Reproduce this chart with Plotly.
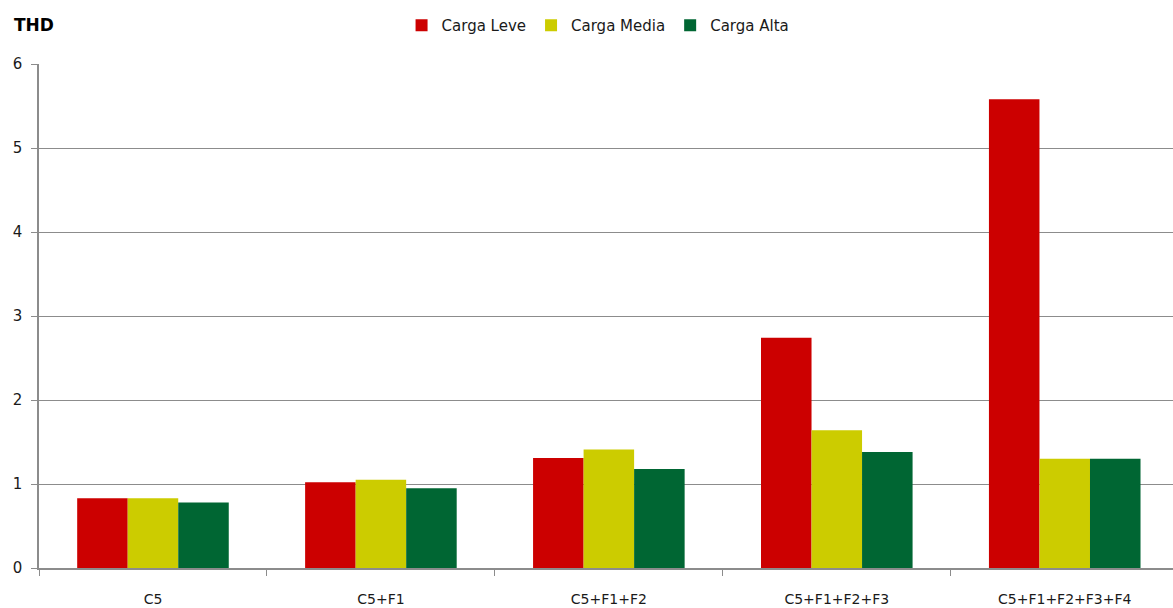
import plotly.graph_objects as go

# THD per configuration and load level
categories = ["C5", "C5+F1", "C5+F1+F2", "C5+F1+F2+F3", "C5+F1+F2+F3+F4"]
carga_leve = [0.83, 1.02, 1.31, 2.74, 5.58]
carga_media = [0.83, 1.05, 1.41, 1.64, 1.30]
carga_alta = [0.78, 0.95, 1.18, 1.38, 1.30]

series = [
    ("Carga Leve", carga_leve, "#CC0000"),
    ("Carga Media", carga_media, "#CCCC00"),
    ("Carga Alta", carga_alta, "#006633"),
]

fig = go.Figure()
for name, vals, color in series:
    fig.add_trace(go.Bar(
        x=categories, y=vals, name=name,
        marker=dict(color=color, line=dict(width=0)),
    ))

axis_grey = "#8c8c8c"
text_color = "#1a1a1a"
font_family = "DejaVu Sans, Verdana, sans-serif"

fig.update_layout(
    width=1173, height=608,
    margin=dict(l=39, r=0, t=64, b=40),
    paper_bgcolor="white", plot_bgcolor="white",
    barmode="group", bargap=0.335, bargroupgap=0,
    font=dict(family=font_family, size=14, color=text_color),
    showlegend=True,
    legend=dict(
        orientation="h", x=0.493, xanchor="center", y=0.985, yanchor="top",
        yref="container", font=dict(size=15, color=text_color),
        itemwidth=30, traceorder="normal",
    ),
    xaxis=dict(
        type="category", range=[-0.5, 4.475],
        showline=True, linecolor=axis_grey, linewidth=1.5,
        ticks="outside", tickson="boundaries", ticklen=6, tickcolor=axis_grey,
        ticklabelstandoff=17,
        showgrid=False, tickfont=dict(size=14, color=text_color),
    ),
    yaxis=dict(
        range=[0, 6], dtick=1, tick0=0,
        showline=True, linecolor=axis_grey, linewidth=1.5,
        ticks="outside", ticklen=6, tickcolor=axis_grey,
        showgrid=True, gridcolor=axis_grey, gridwidth=1.3,
        zeroline=False, ticklabelstandoff=6,
        tickfont=dict(size=15, color=text_color),
    ),
)

fig.add_annotation(
    text="<b>THD</b>", xref="paper", yref="paper",
    x=0, xshift=-27, y=1, yshift=39, xanchor="left", yanchor="middle",
    showarrow=False, font=dict(family="DejaVu Sans, sans-serif", size=17, color="#000000"),
)

fig.write_html("out.html")
